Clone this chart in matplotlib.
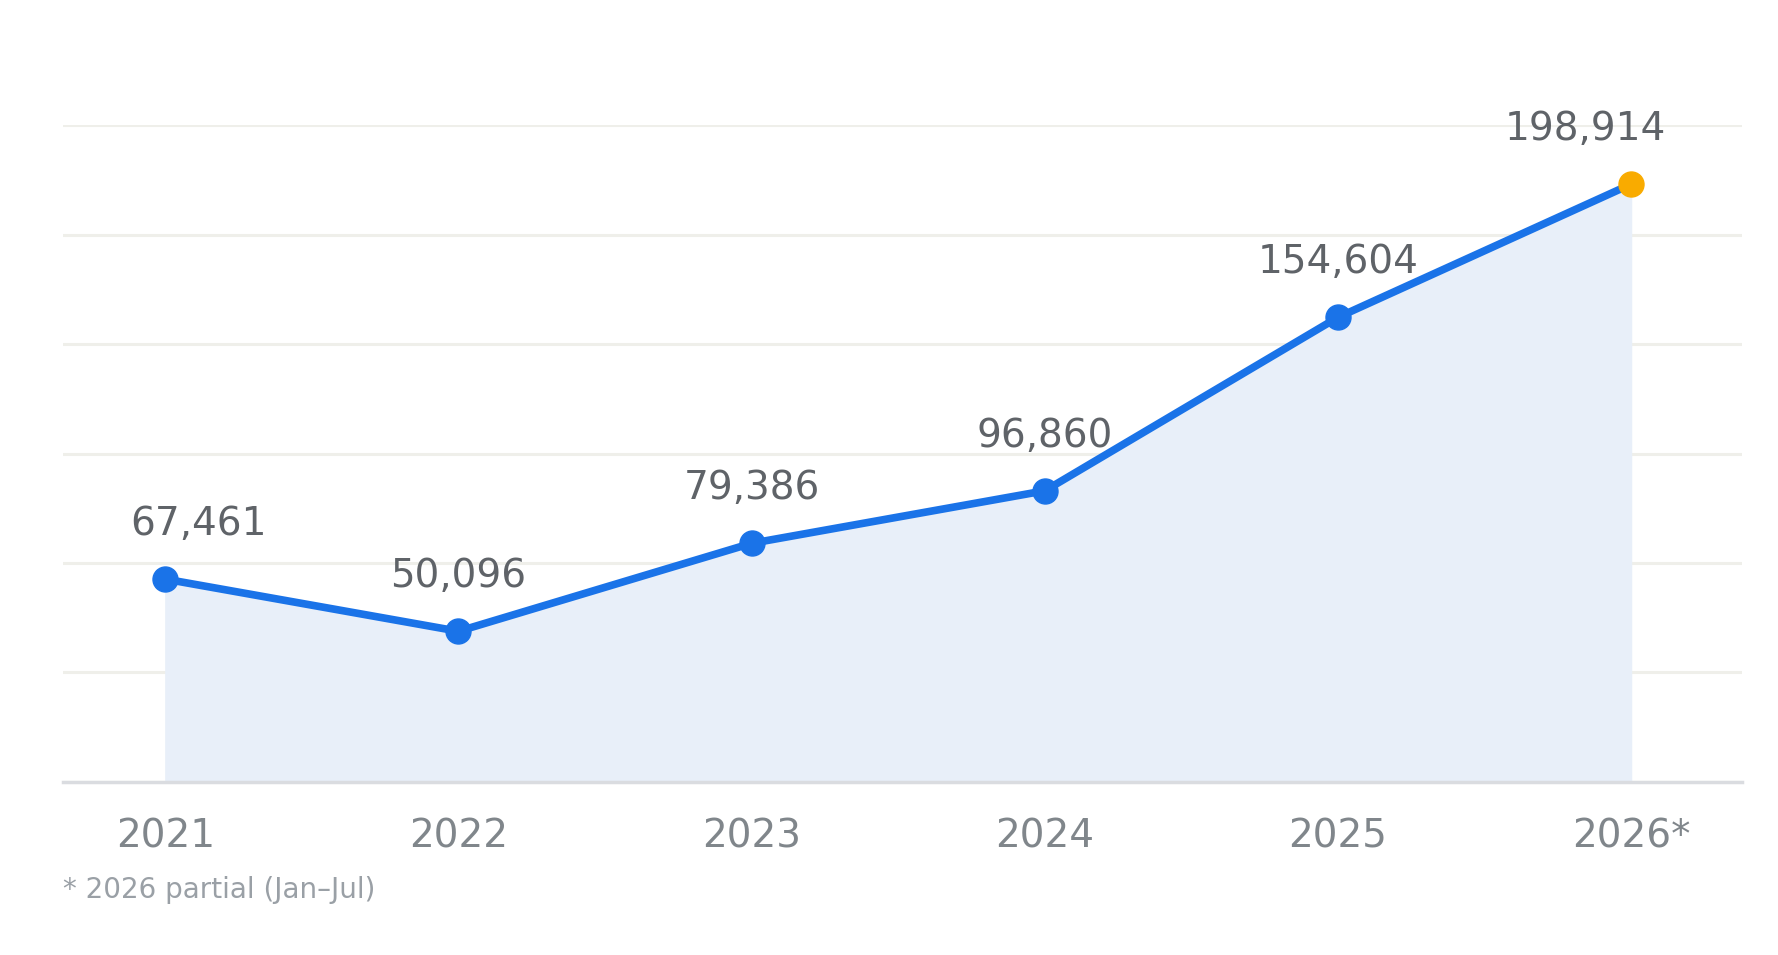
import matplotlib
matplotlib.use("Agg")
import matplotlib.pyplot as plt
import numpy as np

years = ["2021", "2022", "2023", "2024", "2025", "2026*"]
values = [67461, 50096, 79386, 96860, 154604, 198914]
labels = ["67,461", "50,096", "79,386", "96,860", "154,604", "198,914"]
label_dx = [33, 0, 0, 0, 0, -46]  # pixel offsets for value labels

fig = plt.figure(figsize=(17.78, 9.55), dpi=100)
ax = fig.add_axes([0.0353, 0.1814, 0.9442, 0.6873])
x = np.arange(len(values))
ymax = 218500
ax.set_xlim(-0.35, 5.377)
ax.set_ylim(0, ymax)
ax.set_yticks(np.linspace(0, ymax, 7))
ax.grid(axis="y", color="#efefea", linewidth=2.2)
ax.set_axisbelow(True)
for s in ["top", "right", "left"]:
    ax.spines[s].set_visible(False)
ax.spines["bottom"].set_color("#dadce0")
ax.spines["bottom"].set_linewidth(2.5)
ax.tick_params(axis="y", left=False, labelleft=False)
ax.tick_params(axis="x", bottom=False, labelsize=28, labelcolor="#80868b", pad=22)
ax.set_xticks(x)
ax.set_xticklabels(years)

ax.fill_between(x, values, 0, color="#e8eff9", zorder=1)
ax.plot(x, values, color="#1a73e8", linewidth=5.5, zorder=3)
ax.plot(x[:-1], values[:-1], "o", color="#1a73e8", ms=18, zorder=4)
ax.plot(x[-1:], values[-1:], "o", color="#f9ab00", ms=18, zorder=4)

for i, (v, l) in enumerate(zip(values, labels)):
    ax.annotate(l, (x[i], v), xytext=(label_dx[i], 36), textcoords="offset pixels",
                ha="center", va="bottom", fontsize=28, color="#5f6368")

fig.text(0.0353, 0.06, "* 2026 partial (Jan\u2013Jul)", fontsize=20, color="#9aa0a6")
fig.savefig("out.png", dpi=100, facecolor="white")
